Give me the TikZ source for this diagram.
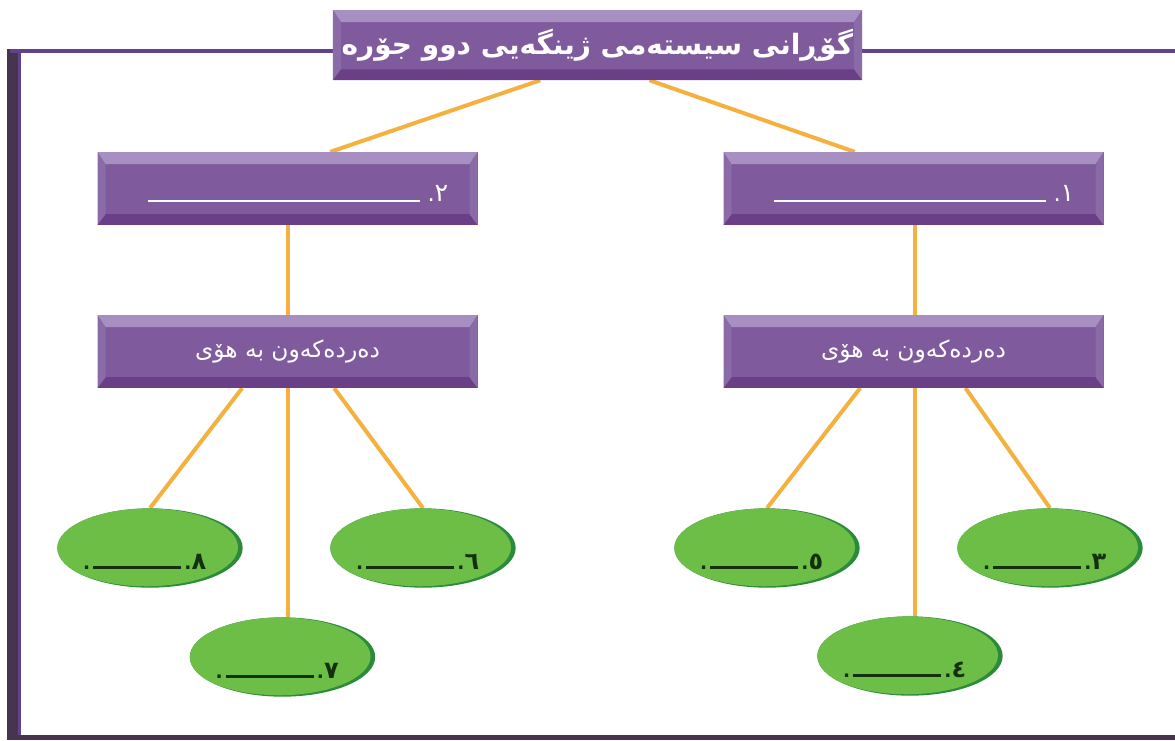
\documentclass[tikz,border=0pt]{standalone}
\usepackage{fontspec}
\TeXXeTstate=1
\newfontfamily\arabicfont[Script=Arabic]{DejaVu Sans}
\usetikzlibrary{shapes.geometric,backgrounds}
\definecolor{pmain}{HTML}{7F5A9C}
\definecolor{ptop}{HTML}{A88FC2}
\definecolor{pbot}{HTML}{6A3F88}
\definecolor{pside}{HTML}{8B6AA8}
\definecolor{gmain}{HTML}{6CBE46}
\definecolor{gdark}{HTML}{2C8A3C}
\definecolor{orangeline}{HTML}{F5B13F}
\definecolor{framecol}{HTML}{62428A}
\definecolor{framedark}{HTML}{46354F}
\definecolor{ruledark}{HTML}{14300F}
\tikzset{
  bevbox/.style={rectangle, fill=pmain, inner sep=0pt, text=white,
    minimum width=285pt, minimum height=54.5pt,
    path picture={
      \fill[ptop] (path picture bounding box.north west) -- (path picture bounding box.north east)
        -- ++(-6pt,-9pt) -- ([xshift=6pt,yshift=-9pt]path picture bounding box.north west) -- cycle;
      \fill[pbot] (path picture bounding box.south west) -- (path picture bounding box.south east)
        -- ++(-6pt,8pt) -- ([xshift=6pt,yshift=8pt]path picture bounding box.south west) -- cycle;
      \fill[pside] (path picture bounding box.north east) -- (path picture bounding box.south east)
        -- ++(-6pt,8pt) -- ([xshift=-6pt,yshift=-9pt]path picture bounding box.north east) -- cycle;
      \fill[pside] (path picture bounding box.north west) -- (path picture bounding box.south west)
        -- ++(6pt,8pt) -- ([xshift=6pt,yshift=-9pt]path picture bounding box.north west) -- cycle;
    }},
  greenell/.style={ellipse, inner sep=0pt, fill=gdark, text=ruledark,
    minimum width=139pt, minimum height=59.5pt,
    path picture={
      \fill[gmain] ([xshift=-2.5pt,yshift=0.5pt]path picture bounding box.center)
        ellipse [x radius=68.5pt, y radius=29.2pt];
    }},
  conn/.style={draw=orangeline, line width=3pt},
}
\newcommand{\artext}[1]{{\arabicfont\beginR #1\endR}}
\newcommand{\elltext}[1]{\raisebox{-16pt}[0pt][0pt]{\hspace*{-8pt}\fontsize{14}{16}\selectfont\arabicfont\bfseries\beginR{\fontsize{18}{18}\selectfont #1}.\,\rule[0.5pt]{66pt}{1.8pt}\,.\endR}}
\newcommand{\boxtext}[1]{\raisebox{-10pt}[0pt][0pt]{\hspace*{16pt}\fontsize{17}{19}\selectfont\arabicfont\beginR{\fontsize{19}{19}\selectfont #1}.\,\,\rule[0pt]{204pt}{1.4pt}\endR}}
\begin{document}
\begin{tikzpicture}[x=0.75pt,y=-0.75pt]
\useasboundingbox (0,0) rectangle (1175,740);
% frame
\fill[framedark] (7,49) rectangle (20,740);
\fill[framecol] (18,49) rectangle (21,736);
\fill[framecol] (10,49) rectangle (1175,53);
\fill[framedark] (7,735) rectangle (1175,740);
% nodes
\node[bevbox, minimum width=397pt, minimum height=52.5pt] (title) at (597.5,45)
  {\fontsize{21}{24}\selectfont\arabicfont\bfseries\beginR گۆڕانی سیستەمی ژینگەیی دوو جۆرە\endR};
\node[bevbox] (b2) at (287.5,188.5) {\boxtext{٢}};
\node[bevbox] (b1) at (913.5,188.5) {\boxtext{١}};
\node[bevbox] (s2) at (287.5,351.5) {\fontsize{17.5}{20}\selectfont\artext{دەردەکەون بە هۆی}};
\node[bevbox] (s1) at (913.5,351.5) {\fontsize{17.5}{20}\selectfont\artext{دەردەکەون بە هۆی}};
\node[greenell] (e8) at (150,548) {\elltext{٨}};
\node[greenell] (e6) at (423,548) {\elltext{٦}};
\node[greenell] (e7) at (282.5,657) {\elltext{٧}};
\node[greenell] (e5) at (767,548) {\elltext{٥}};
\node[greenell] (e3) at (1050,548) {\elltext{٣}};
\node[greenell] (e4) at (910,656) {\elltext{٤}};
% connectors
\begin{scope}[on background layer]
\draw[conn] ([xshift=-43pt]title.south) -- ([xshift=32pt]b2.north);
\draw[conn] ([xshift=39pt]title.south) -- ([xshift=-44pt]b1.north);
\draw[conn] (b2.south) -- (s2.north);
\draw[conn] ([xshift=1pt]b1.south) -- ([xshift=1pt]s1.north);
\draw[conn] ([xshift=-34pt]s2.south) -- (e8.north);
\draw[conn] (s2.south) -- (s2.south |- e7.north);
\draw[conn] ([xshift=35pt]s2.south) -- (e6.north);
\draw[conn] ([xshift=-40pt]s1.south) -- (e5.north);
\draw[conn] ([xshift=1pt]s1.south) -- ([xshift=1pt]s1.south |- e4.north);
\draw[conn] ([xshift=39pt]s1.south) -- (e3.north);
\end{scope}
\end{tikzpicture}
\end{document}
